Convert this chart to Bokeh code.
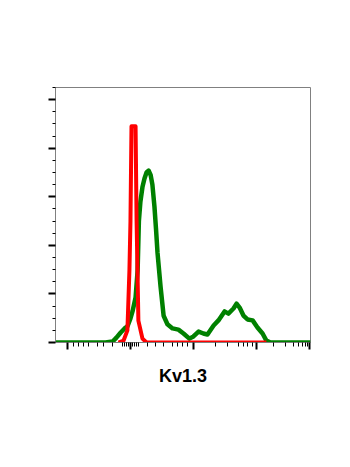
from bokeh.plotting import figure
from bokeh.models import Range1d, FixedTicker
from bokeh.embed import file_html
from bokeh.resources import INLINE

# Histogram data (channel units 0-1000 on a logicle-like axis, % of max)
green_x = [0, 196, 224, 239, 255, 271, 282, 294, 302, 314, 322, 327, 333, 341, 349, 357, 365,
           373, 380, 388, 394, 400, 412, 424, 439, 459, 482, 502, 525, 541, 561, 580, 596,
           620, 639, 663, 678, 698, 710, 722, 737, 753, 773, 792, 812, 827, 843, 1000]
green_y = [0, 0, 0.4, 2, 4, 5.8, 6.6, 9.9, 12.8, 18.5, 29.6, 50, 58, 64, 67.5, 70, 70.8,
           69, 65, 56, 47, 37, 23, 11, 7.5, 5.8, 5.3, 3.7, 1.6, 2.5, 4.5, 3.7, 3.3,
           7, 9.1, 12.8, 11.9, 14, 16, 14.4, 11.1, 9.5, 9.1, 6.2, 3.7, 0.8, 0, 0]

red_x = [247, 267, 282, 290, 294, 298, 314, 318, 325, 341, 357, 827]
red_y = [0, 0.8, 5, 30, 50, 89, 89, 50, 9, 1.6, 0, 0]

x_major = [47, 294, 541, 788, 996]
x_minor = [71, 90, 110, 129, 165, 188, 224, 263, 271, 278, 286, 302, 310, 318, 325,
           361, 392, 424, 459, 478, 498, 518, 627, 675, 718, 737, 753, 773,
           855, 902, 933, 953, 969, 980, 988]
y_major = [0, 20, 40, 60, 80, 100]
y_minor = [5, 10, 15, 25, 30, 35, 45, 50, 55, 65, 70, 75, 85, 90, 95, 105]

x_label = "Kv1.3"

p = figure(width=342, height=448, output_backend="svg", toolbar_location=None,
           x_range=Range1d(0, 1000), y_range=Range1d(0, 105),
           min_border_left=55, min_border_right=32, min_border_top=87, min_border_bottom=106)
p.xgrid.visible = False
p.ygrid.visible = False
p.outline_line_color = "#808080"
p.outline_line_width = 1

p.line(green_x, green_y, line_color="#008000", line_width=4.5, line_join="round")
p.line(red_x, red_y, line_color="#ff0000", line_width=4, line_join="round")

for ax, maj in ((p.xaxis[0], x_major), (p.yaxis[0], y_major)):
    ax.axis_line_color = "#808080"
    ax.major_tick_line_color = "black"
    ax.minor_tick_line_color = "black"
    ax.major_tick_line_width = 2
    ax.minor_tick_line_width = 1
    ax.major_tick_in = 0
    ax.minor_tick_in = 0
    ax.major_label_overrides = {t: "" for t in maj}
    ax.major_label_standoff = 0

p.xaxis[0].ticker = FixedTicker(ticks=x_major, minor_ticks=x_minor)
p.yaxis[0].ticker = FixedTicker(ticks=y_major, minor_ticks=y_minor)
p.xaxis[0].major_tick_out = 7
p.xaxis[0].minor_tick_out = 4
p.yaxis[0].major_tick_out = 7
p.yaxis[0].minor_tick_out = 3

p.xaxis[0].axis_label = x_label
p.xaxis[0].axis_label_text_font = "Liberation Sans"
p.xaxis[0].axis_label_text_font_style = "bold"
p.xaxis[0].axis_label_text_font_size = "18px"
p.xaxis[0].axis_label_text_color = "black"
p.xaxis[0].axis_label_standoff = 16

open("out.html", "w").write(file_html(p, INLINE))
